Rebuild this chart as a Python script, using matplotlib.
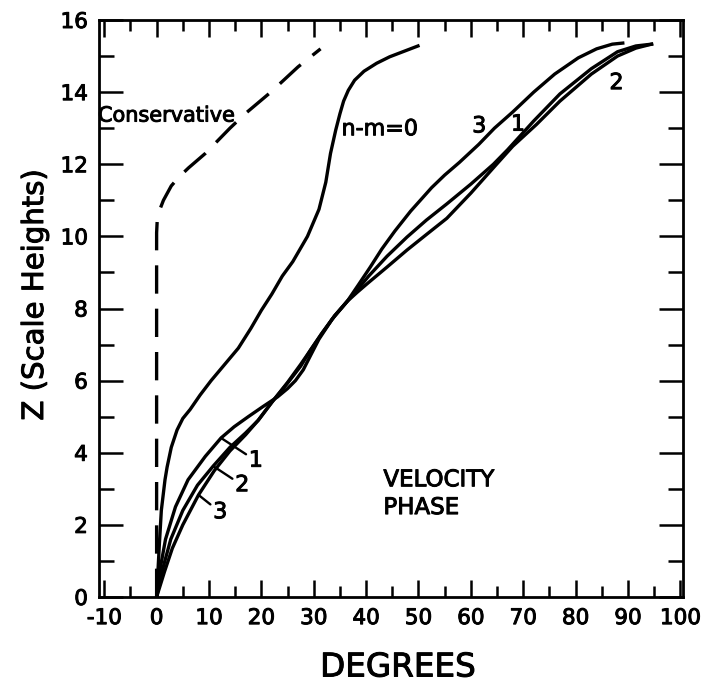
import matplotlib
matplotlib.use("Agg")
import matplotlib.pyplot as plt
import matplotlib.patheffects as pe
from matplotlib.ticker import MultipleLocator

# conservative case (dashed)
cons_x = [0, 0, 0, 0.1, 0.5, 1.3, 2.8, 4.3, 6.1, 9.3, 14.0, 16.9, 21.8,
          27.0, 31.3]
cons_z = [0, 5, 10.1, 10.4, 10.7, 11.0, 11.4, 11.65, 11.9, 12.3, 13.0,
          13.4, 14.0, 14.7, 15.2]

# n-m = 0
m0_x = [0, 0.5, 0.9, 1.6, 2.0, 2.8, 3.9, 5.0, 6.4, 8.3, 10.4, 13.0, 15.6,
        18.0, 20.0, 22.0, 24.0, 26.0, 28.8, 31.0, 32.3, 33.2, 34.2, 35.0,
        35.7, 36.6, 37.8, 39.6, 42.0, 44.5, 49.9]
m0_z = [0, 1.4, 2.4, 3.25, 3.6, 4.15, 4.63, 4.95, 5.2, 5.6, 6.0, 6.45, 6.9,
        7.45, 7.95, 8.4, 8.9, 9.3, 10.0, 10.75, 11.5, 12.3, 12.95, 13.4,
        13.75, 14.05, 14.33, 14.58, 14.8, 14.98, 15.28]

# n-m = 1
m1_x = [0, 0.7, 1.7, 3.6, 6.0, 9.3, 12.3, 14.8, 17.5, 20.3, 23.1, 25.0, 26.5,
        28.0, 29.4, 31.0, 33.5, 36.4, 38.5, 40.5, 44.0, 47.8, 51.5, 55.4,
        60.0, 64.3, 67.0, 72.0, 77.0, 83.0, 88.0, 91.5, 94.5]
m1_z = [0, 0.8, 1.6, 2.5, 3.25, 3.9, 4.41, 4.72, 5.0, 5.28, 5.55, 5.78, 6.0,
        6.3, 6.7, 7.15, 7.7, 8.2, 8.55, 8.9, 9.45, 9.98, 10.45, 10.9,
        11.45, 12.0, 12.4, 13.2, 13.95, 14.65, 15.12, 15.28, 15.33]

# n-m = 2
m2_x = [0, 1.2, 2.7, 5.0, 7.8, 10.8, 14.0, 17.0, 19.4, 22.0, 25.0, 27.5, 29.4,
        31.5, 34.0, 36.4, 38.3, 40.3, 44.0, 47.8, 51.5, 55.4, 60.0, 64.9,
        68.0, 72.5, 77.0, 83.0, 88.0, 91.5, 94.5]
m2_z = [0, 0.8, 1.6, 2.4, 3.1, 3.63, 4.15, 4.55, 4.9, 5.4, 5.93, 6.4, 6.85,
        7.3, 7.8, 8.2, 8.45, 8.7, 9.15, 9.62, 10.05, 10.5, 11.2, 12.0,
        12.5, 13.1, 13.75, 14.5, 15.0, 15.22, 15.33]

# n-m = 3
m3_x = [0, 1.5, 3.0, 5.0, 8.0, 11.0, 14.0, 17.0, 19.4, 22.0, 25.0, 27.5, 29.4,
        31.5, 34.0, 36.4, 38.5, 40.8, 43.0, 45.5, 48.5, 52.5, 55.0, 57.8,
        61.5, 64.5, 68.0, 72.0, 76.0, 80.5, 84.0, 87.0, 89.0]
m3_z = [0, 0.7, 1.35, 2.0, 2.83, 3.5, 4.05, 4.5, 4.9, 5.4, 5.95, 6.45, 6.85,
        7.3, 7.8, 8.2, 8.65, 9.15, 9.65, 10.15, 10.7, 11.35, 11.7, 12.05,
        12.55, 13.0, 13.45, 14.0, 14.5, 14.95, 15.2, 15.33, 15.36]

# curve labels near the origin: label text, label position, point on curve
low_labels = ["1", "2", "3"]
low_label_xy = [(17.6, 3.78), (15.0, 3.1), (10.8, 2.35)]
low_curve_xy = [(12.3, 4.41), (10.8, 3.63), (8.0, 2.83)]

# curve labels near the top
top_labels = ["3", "1", "2"]
top_label_xy = [(61.6, 13.05), (69.0, 13.1), (87.8, 14.25)]

plt.rcParams["font.family"] = "DejaVu Sans"
plt.rcParams["axes.unicode_minus"] = False
thick = [pe.withStroke(linewidth=0.7, foreground="black")]

fig = plt.figure(figsize=(7.14, 6.90), dpi=100)
ax = fig.add_axes([99 / 714, 1 - 597 / 690, 584 / 714, 577 / 690])

lw = 2.4
ax.plot(cons_x, cons_z, color="black", lw=lw, ls=(0, (8.5, 4.5)),
        dash_capstyle="butt", solid_joinstyle="round")
for xs, zs in [(m0_x, m0_z), (m1_x, m1_z), (m2_x, m2_z), (m3_x, m3_z)]:
    ax.plot(xs, zs, color="black", lw=lw, solid_joinstyle="round")

for text, lab, pt in zip(low_labels, low_label_xy, low_curve_xy):
    ax.annotate(text, xy=pt, xytext=lab, fontsize=16, ha="left",
                va="center", path_effects=thick,
                arrowprops=dict(arrowstyle="-", color="black", lw=1.7,
                                shrinkA=0, shrinkB=0))

for text, pos in zip(top_labels, top_label_xy):
    ax.text(pos[0], pos[1], text, fontsize=16, ha="center", va="center",
            path_effects=thick)

ax.text(-11.2, 13.35, "Conservative", fontsize=15, ha="left", va="center",
        path_effects=thick)
ax.text(35.3, 12.97, "n-m=0", fontsize=16, ha="left", va="center",
        path_effects=thick)
ax.text(43.3, 3.25, "VELOCITY", fontsize=16.5, ha="left", va="center",
        path_effects=thick)
ax.text(43.3, 2.48, "PHASE", fontsize=16.5, ha="left", va="center",
        path_effects=thick)

ax.set_xlim(-11, 100.5)
ax.set_ylim(0, 16)
ax.xaxis.set_major_locator(MultipleLocator(10))
ax.xaxis.set_minor_locator(MultipleLocator(5))
ax.yaxis.set_major_locator(MultipleLocator(2))
ax.yaxis.set_minor_locator(MultipleLocator(1))
ax.tick_params(which="both", direction="in", top=True, right=True,
               width=1.8, labelsize=15.5)
ax.tick_params(axis="x", which="major", length=12, pad=8)
ax.tick_params(axis="x", which="minor", length=8)
ax.tick_params(axis="y", which="major", length=17, pad=8)
ax.tick_params(axis="y", which="minor", length=11)
for lab in ax.get_xticklabels() + ax.get_yticklabels():
    lab.set_path_effects(thick)
for s in ax.spines.values():
    s.set_linewidth(2.0)

fig.text(398 / 714, 1 - 667 / 690, "DEGREES", fontsize=23.5,
         ha="center", va="center", path_effects=thick)
fig.text(35 / 714, 1 - 295 / 690, "Z (Scale Heights)", fontsize=21,
         rotation=90, ha="center", va="center", path_effects=thick)

fig.savefig("out.png", dpi=100)
